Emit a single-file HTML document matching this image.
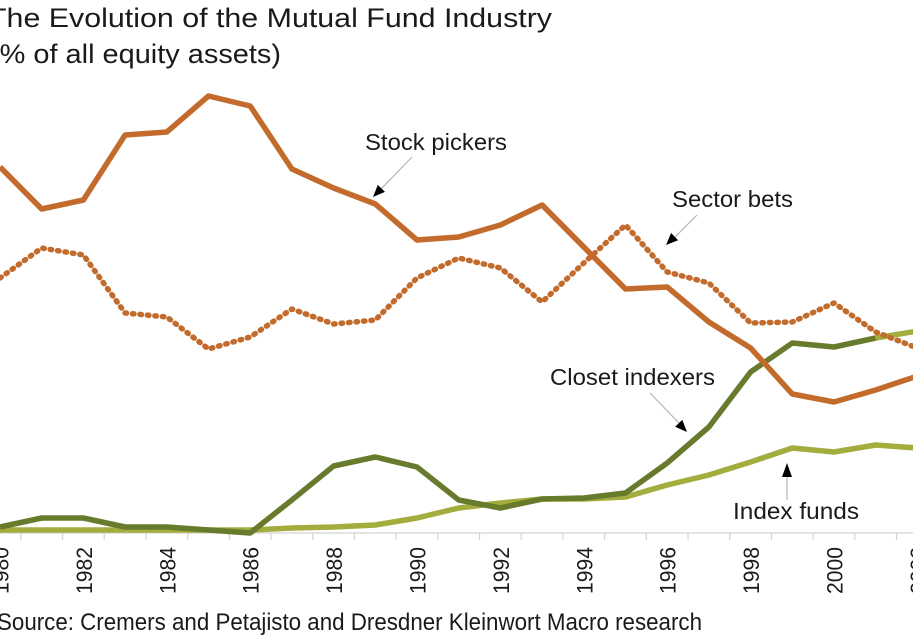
<!DOCTYPE html>
<html>
<head>
<meta charset="utf-8">
<style>
  html,body{margin:0;padding:0;background:#fff;}
  body{width:913px;height:639px;overflow:hidden;}
  svg{display:block;}
  text{font-family:"Liberation Sans",sans-serif;fill:#1a1a1a;}
</style>
</head>
<body>
<svg width="913" height="639" viewBox="0 0 913 639" xmlns="http://www.w3.org/2000/svg">
  <rect width="913" height="639" fill="#fff"/>

  <!-- Title -->
  <text x="-12" y="27" font-size="27" textLength="564" lengthAdjust="spacingAndGlyphs">The Evolution of the Mutual Fund Industry</text>
  <text x="-10" y="63" font-size="27" textLength="291" lengthAdjust="spacingAndGlyphs">(% of all equity assets)</text>

  <!-- Axis -->
  <line x1="0" y1="533" x2="913" y2="533" stroke="#d4d4d4" stroke-width="1.2"/>
  <g stroke="#d4d4d4" stroke-width="1.2">
    <line x1="20.85" y1="533" x2="20.85" y2="540"/>
    <line x1="62.55" y1="533" x2="62.55" y2="540"/>
    <line x1="104.25" y1="533" x2="104.25" y2="540"/>
    <line x1="145.95" y1="533" x2="145.95" y2="540"/>
    <line x1="187.65" y1="533" x2="187.65" y2="540"/>
    <line x1="229.35" y1="533" x2="229.35" y2="540"/>
    <line x1="271.05" y1="533" x2="271.05" y2="540"/>
    <line x1="312.75" y1="533" x2="312.75" y2="540"/>
    <line x1="354.45" y1="533" x2="354.45" y2="540"/>
    <line x1="396.15" y1="533" x2="396.15" y2="540"/>
    <line x1="437.85" y1="533" x2="437.85" y2="540"/>
    <line x1="479.55" y1="533" x2="479.55" y2="540"/>
    <line x1="521.25" y1="533" x2="521.25" y2="540"/>
    <line x1="562.95" y1="533" x2="562.95" y2="540"/>
    <line x1="604.65" y1="533" x2="604.65" y2="540"/>
    <line x1="646.35" y1="533" x2="646.35" y2="540"/>
    <line x1="688.05" y1="533" x2="688.05" y2="540"/>
    <line x1="729.75" y1="533" x2="729.75" y2="540"/>
    <line x1="771.45" y1="533" x2="771.45" y2="540"/>
    <line x1="813.15" y1="533" x2="813.15" y2="540"/>
    <line x1="854.85" y1="533" x2="854.85" y2="540"/>
    <line x1="896.55" y1="533" x2="896.55" y2="540"/>
  </g>

  <!-- Year labels (rotated) -->
  <g font-size="22">
    <text transform="translate(8.5,594) rotate(-90)" textLength="47" lengthAdjust="spacingAndGlyphs">1980</text>
    <text transform="translate(91.9,594) rotate(-90)" textLength="47" lengthAdjust="spacingAndGlyphs">1982</text>
    <text transform="translate(175.3,594) rotate(-90)" textLength="47" lengthAdjust="spacingAndGlyphs">1984</text>
    <text transform="translate(258.7,594) rotate(-90)" textLength="47" lengthAdjust="spacingAndGlyphs">1986</text>
    <text transform="translate(342.1,594) rotate(-90)" textLength="47" lengthAdjust="spacingAndGlyphs">1988</text>
    <text transform="translate(425.5,594) rotate(-90)" textLength="47" lengthAdjust="spacingAndGlyphs">1990</text>
    <text transform="translate(508.9,594) rotate(-90)" textLength="47" lengthAdjust="spacingAndGlyphs">1992</text>
    <text transform="translate(592.3,594) rotate(-90)" textLength="47" lengthAdjust="spacingAndGlyphs">1994</text>
    <text transform="translate(675.7,594) rotate(-90)" textLength="47" lengthAdjust="spacingAndGlyphs">1996</text>
    <text transform="translate(759.1,594) rotate(-90)" textLength="47" lengthAdjust="spacingAndGlyphs">1998</text>
    <text transform="translate(842.5,594) rotate(-90)" textLength="47" lengthAdjust="spacingAndGlyphs">2000</text>
    <text transform="translate(925.9,594) rotate(-90)" textLength="47" lengthAdjust="spacingAndGlyphs">2002</text>
  </g>

  <!-- Index funds -->
  <polyline fill="none" stroke="#a3ad3d" stroke-width="5.5" stroke-linejoin="round"
    points="0,530 41.7,530 83.4,530 125.1,530 166.8,530 208.5,530 250.2,530 291.9,528 333.6,527 375.3,525 417,518 458.7,508 500.4,503 542.1,499 583.8,499 625.5,497 667.2,485 708.9,475 750.6,462 792.3,448 834,452 875.7,445 917.4,448"/>

  <!-- Closet indexers -->
  <polyline fill="none" stroke="#687a2c" stroke-width="5.5" stroke-linejoin="round"
    points="0,527 41.7,518 83.4,518 125.1,527 166.8,527 208.5,530 250.2,533 291.9,500 333.6,466 375.3,457 417,467 458.7,500 500.4,508 542.1,499 583.8,498 625.5,493 667.2,463 708.9,427 750.6,372 792.3,343 834,347 875.7,338"/>
  <polyline fill="none" stroke="#a3ad3d" stroke-width="5.5" stroke-linejoin="round"
    points="875.7,338 917.4,331"/>

  <!-- Sector bets (dotted) -->
  <polyline fill="none" stroke="#c26b2c" stroke-width="5.5" stroke-linejoin="round" stroke-linecap="round" stroke-dasharray="1.5 6"
    points="0,278 41.7,248 83.4,255 125.1,313 166.8,317 208.5,349 250.2,337 291.9,309 333.6,324 375.3,320 417,278 458.7,258 500.4,268 542.1,302 583.8,263 625.5,225 667.2,272 708.9,283 750.6,323 792.3,322 834,303 875.7,332 917.4,348"/>

  <!-- Stock pickers -->
  <polyline fill="none" stroke="#c26b2c" stroke-width="5.5" stroke-linejoin="round"
    points="0,167 41.7,209 83.4,200 125.1,135 166.8,132 208.5,96 250.2,106 291.9,169 333.6,188 375.3,204 417,240 458.7,237 500.4,225 542.1,205 583.8,247 625.5,289 667.2,287 708.9,322 750.6,348 792.3,394 834,402 875.7,390 917.4,376"/>

  <!-- Annotations -->
  <g font-size="23">
    <text x="365" y="150" textLength="142" lengthAdjust="spacingAndGlyphs">Stock pickers</text>
    <text x="672" y="207" textLength="121" lengthAdjust="spacingAndGlyphs">Sector bets</text>
    <text x="550" y="385" textLength="165" lengthAdjust="spacingAndGlyphs">Closet indexers</text>
    <text x="733" y="519" textLength="126" lengthAdjust="spacingAndGlyphs">Index funds</text>
  </g>

  <g stroke="#b5b5b5" stroke-width="1.2">
    <line x1="412" y1="157" x2="381" y2="189"/>
    <line x1="697" y1="215" x2="675" y2="237"/>
    <line x1="650" y1="393" x2="679" y2="423"/>
    <line x1="787" y1="500" x2="787" y2="476"/>
  </g>
  <g fill="#000">
    <polygon points="373,197 385,191.9 377.8,184.9"/>
    <polygon points="666,245 678.1,240.2 671.1,233"/>
    <polygon points="687,432 682.3,419.9 675.1,426.7"/>
    <polygon points="787,463 782,477 792,477"/>
  </g>

  <!-- Source -->
  <text x="-3" y="630" font-size="24" textLength="705" lengthAdjust="spacingAndGlyphs">Source: Cremers and Petajisto and Dresdner Kleinwort Macro research</text>
</svg>
</body>
</html>
